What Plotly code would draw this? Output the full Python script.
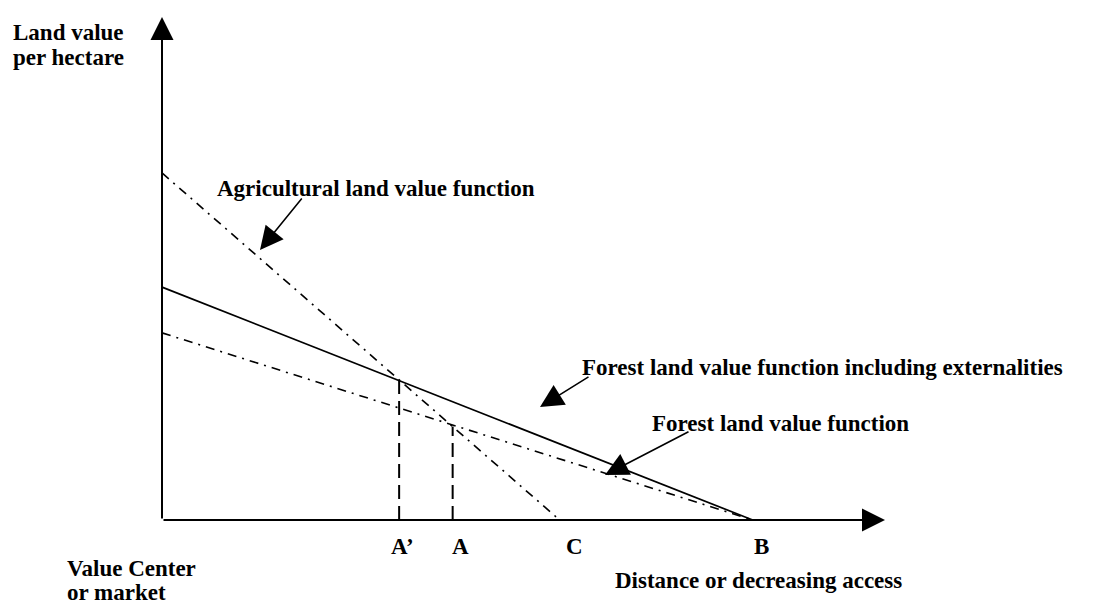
import numpy as np
import plotly.graph_objects as go

# ---------------- data (abstract units: distance 0..100, land value 0..100) ----------------
distance_axis_max = 100.0
value_axis_max = 100.0

agri_value_at_center = 69.0        # agricultural land value at the market
agri_zero_distance = 55.0          # point C
forest_ext_value_at_center = 46.3  # forest value incl. externalities at the market
forest_value_at_center = 37.2      # forest value at the market
forest_zero_distance = 81.7        # point B

marked_distances = [32.8, 40.2]    # A', A (where agriculture meets forest functions)
tick_labels = ["A’", "A", "C", "B"]
tick_positions = [32.8, 40.2, 55.0, 81.7]

# ---------------- layout helpers (pixel frame of the figure) ----------------
W, H = 1101, 604
OX, OY = 162, 520          # pixel origin of the diagram
SX, SY = 7.23, 5.03        # pixels per unit


def X(px):
    return (px - OX) / SX


def Y(py):
    return (OY - py) / SY


FONT = dict(family="Liberation Serif, Times New Roman, serif", size=23,
            color="black", weight="bold")

fig = go.Figure()

# agricultural land value function (dash-dot)
fig.add_trace(go.Scatter(
    x=[0, agri_zero_distance], y=[agri_value_at_center, 0], mode="lines",
    line=dict(color="black", width=1.6, dash="9px,6px,2px,6px"),
    hoverinfo="skip", showlegend=False))

# forest land value function including externalities (solid)
fig.add_trace(go.Scatter(
    x=[0, forest_zero_distance], y=[forest_ext_value_at_center, 0], mode="lines",
    line=dict(color="black", width=1.7),
    hoverinfo="skip", showlegend=False))

# forest land value function (dash-dot)
fig.add_trace(go.Scatter(
    x=[0, forest_zero_distance], y=[forest_value_at_center, 0], mode="lines",
    line=dict(color="black", width=1.6, dash="9px,6px,2px,6px"),
    hoverinfo="skip", showlegend=False))

# vertical dashed lines at A' and A up to the agricultural function
for d in marked_distances:
    top = float(np.interp(d, [0, agri_zero_distance], [agri_value_at_center, 0]))
    fig.add_trace(go.Scatter(
        x=[d, d], y=[0, top], mode="lines",
        line=dict(color="black", width=2, dash="14px,7px"),
        hoverinfo="skip", showlegend=False))

annotations = []

# axes with arrows
annotations.append(dict(x=0, y=value_axis_max, ax=0, ay=0, axref="x", ayref="y",
                        xref="x", yref="y", text="", showarrow=True,
                        arrowhead=2, arrowsize=2.3, arrowwidth=2, arrowcolor="black"))
annotations.append(dict(x=distance_axis_max, y=0, ax=0, ay=0, axref="x", ayref="y",
                        xref="x", yref="y", text="", showarrow=True,
                        arrowhead=2, arrowsize=2.3, arrowwidth=2, arrowcolor="black"))

# label pointer arrows (tip, tail in pixels)
pointers = [((260, 250), (303, 197)),
            ((540, 407), (590, 376)),
            ((605, 475), (690, 431))]
for (tx, ty), (sx, sy) in pointers:
    annotations.append(dict(x=X(tx), y=Y(ty), ax=X(sx), ay=Y(sy), axref="x", ayref="y",
                            xref="x", yref="y", text="", showarrow=True,
                            arrowhead=2, arrowsize=2.9, arrowwidth=1.6, arrowcolor="black"))

# text labels (left edge px, vertical center px)
texts = [("Land value", 13, 32),
         ("per hectare", 13, 57),
         ("Agricultural land value function", 217, 188),
         ("Forest land value function including externalities", 582, 367),
         ("Forest land value function", 652, 423),
         ("Value Center", 67, 568),
         ("or market", 67, 592),
         ("Distance or decreasing access", 615, 580)]
for t, lx, cy in texts:
    annotations.append(dict(x=X(lx), y=Y(cy), xref="x", yref="y", text=t,
                            showarrow=False, xanchor="left", yanchor="middle",
                            font=FONT, borderpad=0, borderwidth=0))

# tick labels under the distance axis
tick_shift = [3, 8, 15, 9]
for lab, pos, sh in zip(tick_labels, tick_positions, tick_shift):
    annotations.append(dict(x=pos, y=Y(546), xref="x", yref="y", text=lab,
                            showarrow=False, xanchor="center", yanchor="middle",
                            xshift=sh, font=FONT, borderpad=0, borderwidth=0))

fig.update_layout(
    width=W, height=H,
    margin=dict(l=0, r=0, t=0, b=0),
    paper_bgcolor="white", plot_bgcolor="white",
    xaxis=dict(range=[X(0), X(W)], visible=False, fixedrange=True),
    yaxis=dict(range=[Y(H), Y(0)], visible=False, fixedrange=True),
    annotations=annotations,
    showlegend=False,
)

fig.write_html("out.html", config={"displayModeBar": False},
               post_script="document.body.style.margin='0';"
                           "document.body.style.overflow='hidden';")
